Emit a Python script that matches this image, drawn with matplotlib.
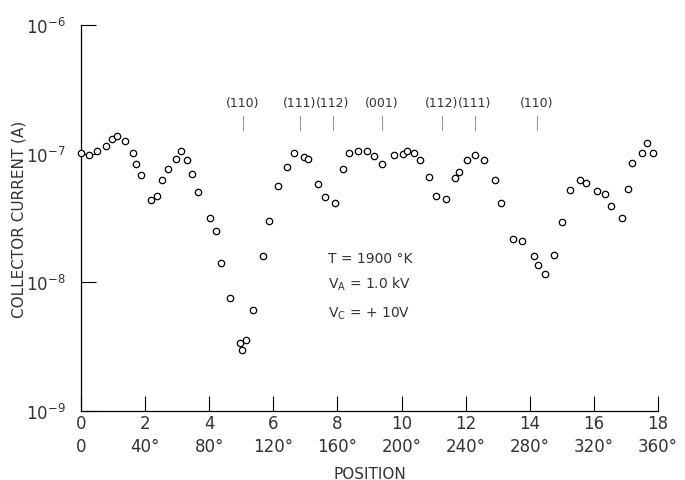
import numpy as np
import matplotlib
matplotlib.use("Agg")
import matplotlib.pyplot as plt

plt.rcParams['font.family'] = ['DejaVu Sans']
plt.rcParams['mathtext.default'] = 'regular'

# Data (position in units, current in A)
position = [0.00, 0.26, 0.51, 0.78, 0.97, 1.13, 1.38, 1.62, 1.71, 1.88,
            2.17, 2.37, 2.52, 2.71, 2.95, 3.11, 3.32, 3.45, 3.66, 4.03,
            4.22, 4.36, 4.65, 4.96, 5.01, 5.15, 5.36, 5.67, 5.87, 6.15,
            6.43, 6.63, 6.96, 7.09, 7.40, 7.60, 7.91, 8.18, 8.36, 8.65,
            8.93, 9.14, 9.39, 9.75, 10.03, 10.16, 10.39, 10.58, 10.86, 11.07,
            11.38, 11.66, 11.78, 12.04, 12.28, 12.58, 12.92, 13.11, 13.47, 13.76,
            14.12, 14.25, 14.49, 14.74, 15.01, 15.27, 15.56, 15.74, 16.09, 16.34,
            16.54, 16.87, 17.06, 17.19, 17.49, 17.65, 17.85]
current = [1.01e-7, 9.7e-8, 1.04e-7, 1.14e-7, 1.31e-7, 1.36e-7, 1.26e-7, 1.02e-7, 8.3e-8, 6.8e-8,
           4.4e-8, 4.7e-8, 6.2e-8, 7.55e-8, 9.1e-8, 1.04e-7, 9.0e-8, 7.0e-8, 5.07e-8, 3.14e-8,
           2.49e-8, 1.42e-8, 7.6e-9, 3.38e-9, 2.99e-9, 3.56e-9, 6.1e-9, 1.61e-8, 2.98e-8, 5.64e-8,
           7.88e-8, 1.01e-7, 9.42e-8, 9.03e-8, 5.82e-8, 4.57e-8, 4.14e-8, 7.6e-8, 1.01e-7, 1.05e-7,
           1.05e-7, 9.65e-8, 8.32e-8, 9.77e-8, 1.0e-7, 1.05e-7, 1.01e-7, 8.98e-8, 6.59e-8, 4.72e-8,
           4.45e-8, 6.43e-8, 7.24e-8, 8.87e-8, 9.7e-8, 8.87e-8, 6.25e-8, 4.16e-8, 2.17e-8, 2.08e-8,
           1.61e-8, 1.36e-8, 1.17e-8, 1.62e-8, 2.96e-8, 5.25e-8, 6.25e-8, 5.96e-8, 5.17e-8, 4.83e-8,
           3.93e-8, 3.14e-8, 5.35e-8, 8.47e-8, 1.01e-7, 1.2e-7, 1.02e-7]

# crystal direction marks
plane_labels = ["(110)", "(111)", "(112)", "(001)", "(112)", "(111)", "(110)"]
plane_pos = [5.05, 6.83, 7.86, 9.39, 11.26, 12.29, 14.22]

x_ticks = [0, 2, 4, 6, 8, 10, 12, 14, 16, 18]
angle_labels = ["0", "40°", "80°", "120°", "160°", "200°", "240°", "280°", "320°", "360°"]
y_ticks = [1e-9, 1e-8, 1e-7, 1e-6]
y_labels = ["$10^{-9}$", "$10^{-8}$", "$10^{-7}$", "$10^{-6}$"]

txt = '0.2'

fig = plt.figure(figsize=(6.85, 4.81), dpi=100)
ax = fig.add_axes([0.1182, 0.1435, 0.8424, 0.8025])

ax.plot(position, current, 'o', mfc='white', mec='black', ms=4.6, mew=0.9,
        clip_on=False, zorder=3)

ax.set_yscale('log')
ax.set_xlim(0, 18)
ax.set_ylim(1e-9, 1e-6)

for s in ['top', 'right']:
    ax.spines[s].set_visible(False)
for s in ['left', 'bottom']:
    ax.spines[s].set_linewidth(0.9)

ax.set_xticks(x_ticks)
ax.set_xticklabels([f"{t}\n{a}" for t, a in zip(x_ticks, angle_labels)],
                   linespacing=1.35, fontsize=12, color=txt)
ax.set_yticks(y_ticks)
ax.set_yticklabels(y_labels, fontsize=12, color=txt)
ax.yaxis.set_minor_locator(matplotlib.ticker.NullLocator())
ax.tick_params(axis='x', direction='in', length=11, width=0.8, pad=2)
ax.tick_params(axis='y', direction='in', length=11, width=0.8, pad=11)

ax.set_xlabel("POSITION", fontsize=11, color=txt, labelpad=8)
ax.set_ylabel("COLLECTOR CURRENT (A)", fontsize=11, color=txt)
ax.yaxis.set_label_coords(-0.094, 0.5)

for lab, p in zip(plane_labels, plane_pos):
    ax.text(p, 2.5e-7, lab, ha='center', va='center', fontsize=9, color=txt)
    ax.plot([p, p], [1.52e-7, 1.95e-7], color='0.6', lw=0.8)

ax.text(7.7, 1.55e-8, "T = 1900 °K", fontsize=10, color=txt, va='center')
ax.text(7.7, 9.8e-9, "$V_A$ = 1.0 kV", fontsize=10, color=txt, va='center')
ax.text(7.7, 5.8e-9, "$V_C$ = + 10V", fontsize=10, color=txt, va='center')

fig.savefig("out.png", dpi=100)
